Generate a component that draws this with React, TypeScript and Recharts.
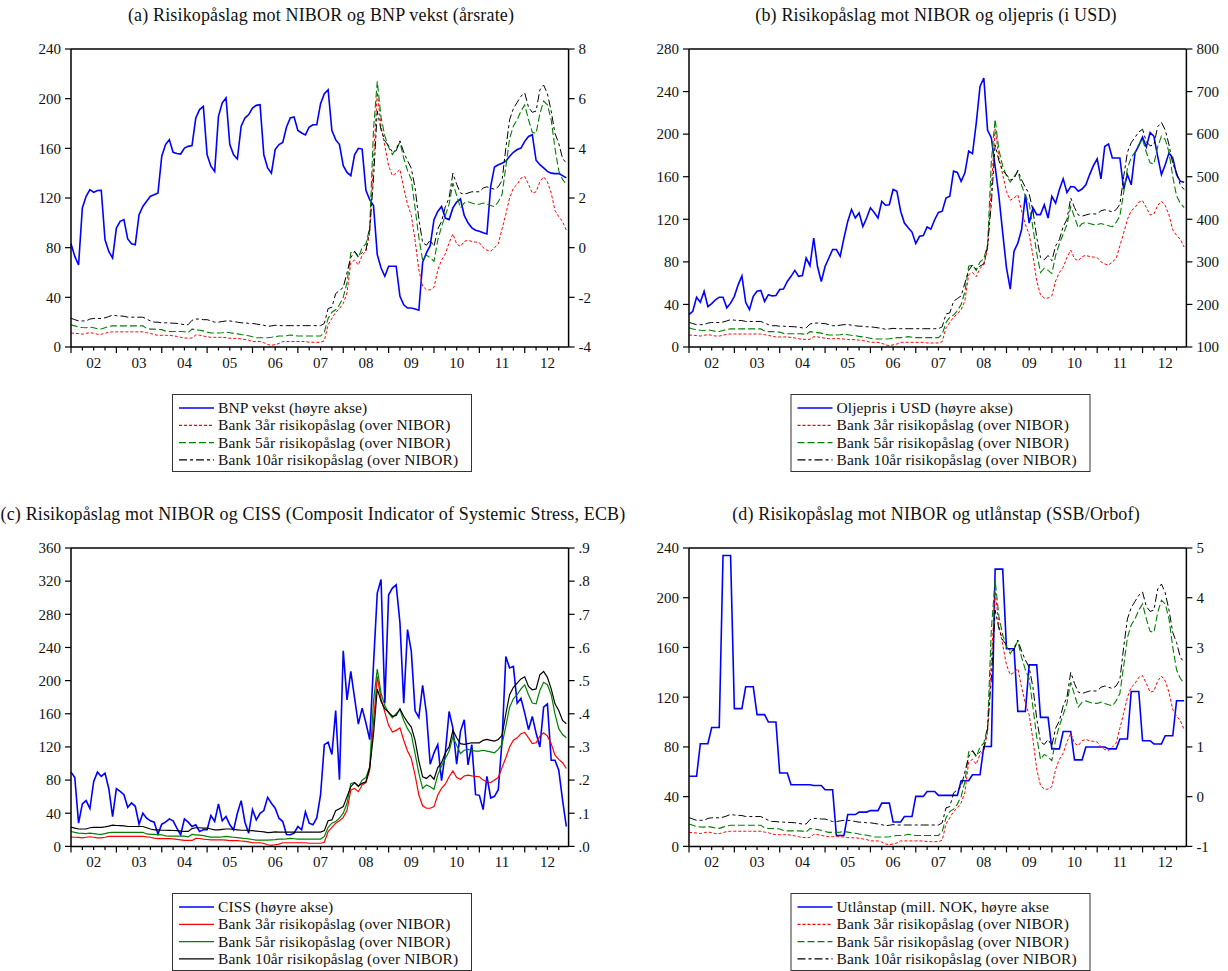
import React from 'react';
import { LineChart, Line, XAxis, YAxis, ReferenceLine } from 'recharts';

const FONT = '"Liberation Serif", "Times New Roman", serif';
const TXT = '#111';

// Monthly data 2002M01 - 2012M12 (132 obs)
const bank3 = [
  11.3, 11, 10.8, 10.3, 11, 11.6, 11, 10.3, 10.3, 11, 12, 12.2,
  12.2, 12.2, 12.2, 12.2, 12.2, 12.2, 12.2, 12.2, 11.5, 11, 10, 9.4,
  9.4, 9.4, 9.4, 9, 8.5, 7.8, 7.2, 7.2, 7.2, 9.7, 9.5, 8.8,
  8.3, 7.8, 7.8, 7.8, 7.8, 7.5, 7, 6.9, 6.9, 6.5, 6, 5.5,
  4.4, 4.4, 4.4, 3.5, 2, 1.3, 2, 2.8, 4.4, 4.4, 4.4, 4.4,
  4.4, 4.4, 4.4, 3.8, 3.8, 3.8, 3.8, 5, 18, 23, 28, 31,
  35, 43.5, 68, 70, 66, 74, 77, 92, 150, 205, 178, 162,
  146, 138, 140, 143, 128, 115, 106, 86, 62, 49, 46, 46,
  48, 62, 70, 75, 84, 91, 83, 81, 85, 86, 85, 84.5,
  84, 80, 78, 77, 80, 83, 95, 107, 120, 128, 131, 136,
  137.4, 131, 124, 125, 133, 137, 133, 124, 110, 105, 101, 94,
];
const bank5 = [
  18, 17, 16, 15.7, 15.5, 16, 15.5, 14.7, 14.5, 15.5, 16.5, 17,
  17, 17, 17, 17, 17, 17, 17, 17, 15, 14.4, 14.4, 14.2,
  14, 12.8, 12.5, 12.5, 12.5, 12.5, 12.3, 11.6, 14.4, 14, 13.5, 13,
  12, 11.3, 11.3, 11.3, 11.5, 12, 11.5, 11, 10.6, 10, 9.5, 9,
  8.3, 7.5, 7.5, 7.5, 7.5, 7.8, 8.2, 8.8, 8.8, 9, 9.7, 9.2,
  8.8, 8.8, 8.8, 8.8, 8.8, 8.8, 8.8, 12, 23, 28, 30, 34,
  40, 52, 76, 77, 72, 80, 83, 96, 175, 214, 185, 170,
  161, 155, 160, 165, 152, 142, 135, 112, 88, 70, 74, 72,
  69, 86, 97, 106, 115, 132, 122, 112, 116, 117, 116, 115,
  115, 116, 115, 114, 113, 117, 123, 145, 168, 178, 183, 190,
  195, 183, 173, 172, 188, 198, 195, 183, 160, 142, 135, 131,
];
const bank10 = [
  23.2, 22, 21, 21, 21, 22.5, 23, 23, 23, 23.5, 24.5, 25.7,
  25.2, 25, 24.8, 24, 24, 24, 24, 24, 22.5, 21, 20, 20,
  19.5, 19.5, 19.3, 19.2, 19, 18.5, 18, 18, 21.5, 22.5, 22.5, 22,
  22, 21, 20, 20, 20.5, 21, 21, 20.5, 20, 19.5, 19.5, 19,
  19, 18.5, 18, 17.5, 16.6, 17, 17.5, 17.2, 17.2, 17.2, 17.2, 17.2,
  17.2, 17.2, 17.2, 17.2, 17.2, 17.2, 17.2, 19, 31, 32, 43, 45.5,
  48, 60, 72, 77, 73, 76, 78, 95, 135, 190, 175, 166,
  162, 157, 158, 166, 157, 150, 144, 128, 103, 84, 82, 86,
  81, 95, 101, 113, 120, 140, 131, 124, 123, 124, 125, 125,
  125, 128, 129, 128, 127, 129, 134, 160, 183, 192, 197, 202,
  204.6, 193, 189, 190, 207, 211, 204, 190, 172, 164, 152, 148,
];
const bnpGrowth = [
  0.16, -0.35, -0.7, 1.6, 2.07, 2.34, 2.23, 2.3, 2.31, 0.32, -0.15, -0.42,
  0.79, 1.06, 1.13, 0.35, 0.16, 0.12, 1.33, 1.66, 1.87, 2.07, 2.13, 2.2,
  3.68, 4.15, 4.35, 3.84, 3.79, 3.77, 4.01, 4.08, 4.11, 5.22, 5.56, 5.69,
  3.74, 3.28, 3.07, 5.29, 5.83, 6.03, 4.15, 3.74, 3.57, 4.89, 5.22, 5.36,
  5.62, 5.73, 5.76, 3.74, 3.21, 3.0, 3.95, 4.15, 4.24, 4.86, 5.22, 5.26,
  4.72, 4.62, 4.54, 4.86, 4.95, 4.95, 5.8, 6.2, 6.36, 4.72, 4.35, 4.15,
  3.3, 3.03, 2.9, 3.74, 4.0, 3.97, 2.31, 1.93, 1.7, -0.28, -0.82, -1.15,
  -0.75, -0.75, -0.75, -1.96, -2.3, -2.43, -2.43, -2.47, -2.52, -0.59, -0.21, 0.08,
  1.13, 1.46, 1.66, 1.19, 1.13, 1.6, 1.84, 1.96, 1.3, 1.0, 0.8, 0.7,
  0.66, 0.6, 0.55, 2.47, 3.25, 3.34, 3.4, 3.48, 3.68, 3.84, 3.95, 4.01,
  4.28, 4.48, 4.55, 3.52, 3.34, 3.21, 3.07, 3.0, 2.98, 2.98, 2.9, 2.81,
];
const oilUsd = [
  176, 184, 217, 205, 231, 195, 202, 211, 217, 217, 192, 203,
  219, 246, 267, 205, 188, 219, 231, 233, 207, 223, 220, 221,
  235, 236, 254, 266, 280, 266, 268, 309, 291, 356, 289, 254,
  289, 309, 329, 329, 313, 356, 395, 423, 403, 415, 383, 403,
  427, 416, 403, 442, 433, 434, 470, 466, 419, 391, 380, 370,
  343, 360, 362, 382, 377, 399, 416, 419, 450, 454, 513, 510,
  489, 509, 560, 554, 626, 712, 732, 609, 591, 524, 454, 368,
  286, 236, 325, 344, 376, 458, 391, 427, 411, 411, 434, 403,
  454, 438, 470, 495, 463, 477, 476, 466, 471, 481, 505, 526,
  542, 495, 571, 577, 544, 544, 544, 471, 505, 481, 556, 573,
  593, 570, 604, 595, 548, 505, 528, 556, 544, 505, 489, 487,
];
const ciss = [
  0.224, 0.208, 0.07, 0.128, 0.138, 0.114, 0.196, 0.224, 0.211, 0.221, 0.174, 0.09,
  0.174, 0.166, 0.156, 0.118, 0.131, 0.121, 0.067, 0.1, 0.085, 0.077, 0.073, 0.037,
  0.067, 0.073, 0.083, 0.077, 0.055, 0.035, 0.083, 0.073, 0.06, 0.065, 0.045, 0.05,
  0.05, 0.093, 0.075, 0.128, 0.077, 0.09, 0.065, 0.05, 0.1, 0.138, 0.073, 0.04,
  0.111, 0.08, 0.1, 0.108, 0.148, 0.13, 0.115, 0.085, 0.075, 0.036, 0.035, 0.04,
  0.06, 0.05, 0.104, 0.07, 0.065, 0.086, 0.155, 0.307, 0.314, 0.277, 0.41, 0.201,
  0.59, 0.442, 0.528, 0.447, 0.369, 0.417, 0.372, 0.322, 0.548, 0.764, 0.805, 0.432,
  0.759, 0.779, 0.789, 0.674, 0.432, 0.654, 0.588, 0.409, 0.389, 0.486, 0.402, 0.248,
  0.282, 0.307, 0.198, 0.282, 0.407, 0.357, 0.248, 0.347, 0.382, 0.246, 0.307, 0.156,
  0.154, 0.111, 0.211, 0.146, 0.151, 0.171, 0.317, 0.573, 0.538, 0.543, 0.432, 0.447,
  0.402, 0.352, 0.392, 0.342, 0.30, 0.42, 0.43, 0.26, 0.26, 0.23, 0.14, 0.06,
];
// Quarterly loan losses (right-axis units), 2002Q1 - 2012Q4
const loanLossQ = [
  0.41, 1.065, 1.39, 4.85, 1.77, 2.21, 1.65, 1.5, 0.475, 0.24, 0.24, 0.225,
  0.14, -0.78, -0.36, -0.31, -0.28, -0.13, -0.51, -0.4, 0.005, 0.105, 0.025, 0.025,
  0.32, 0.44, 1.01, 4.575, 2.975, 1.715, 2.65, 1.595, 0.96, 1.31, 0.74, 1.0,
  1.0, 0.96, 1.16, 2.115, 1.125, 1.06, 1.225, 1.93,
];
const yearLabels = ['02', '03', '04', '05', '06', '07', '08', '09', '10', '11', '12'];

const data = bank3.map((_, i) => ({
  m: i,
  b3: bank3[i],
  b5: bank5[i],
  b10: bank10[i],
  bnp: bnpGrowth[i],
  oil: oilUsd[i],
  ciss: ciss[i],
  loss: loanLossQ[Math.floor(i / 3)],
}));

const xTicks = Array.from({ length: 44 }, (_, k) => k * 3);

const XTick = (props: any) => {
  const { x, y, payload } = props;
  const v = payload.value;
  const major = v % 12 === 0;
  const label = v % 12 === 6 ? yearLabels[Math.floor(v / 12)] : null;
  return (
    <g>
      <line x1={x} y1={y} x2={x} y2={y + (major ? 6 : 3.5)} stroke="#000" strokeWidth={1.2} />
      {label && (
        <text x={x} y={y + 21} textAnchor="middle" fontSize={15} fontFamily={FONT} fill={TXT}>
          {label}
        </text>
      )}
    </g>
  );
};

type PanelProps = {
  px: number;
  py: number;
  w: number;
  h: number;
  leftDomain: [number, number];
  leftTicks: number[];
  rightDomain: [number, number];
  rightTicks: number[];
  rightFmt: (v: number) => string;
  rightKey: string;
  solid: boolean;
};

const Panel = (p: PanelProps) => {
  const width = p.w + 130;
  const height = p.h + 100;
  const axisStyle = { stroke: '#000', strokeWidth: 1.5 };
  const tickStyle = { fontSize: 15, fontFamily: FONT, fill: TXT };
  return (
    <div style={{ position: 'absolute', left: p.px - 70, top: p.py - 50 }}>
      <LineChart width={width} height={height} data={data} margin={{ top: 50, right: 10, bottom: 10, left: 10 }}>
        <XAxis
          dataKey="m"
          type="number"
          domain={[0, 131.6]}
          ticks={xTicks}
          interval={0}
          tickLine={false}
          tickSize={0}
          tickMargin={0}
          axisLine={axisStyle}
          tick={<XTick />}
          height={40}
        />
        <YAxis
          yAxisId="L"
          domain={p.leftDomain}
          ticks={p.leftTicks}
          interval={0}
          width={60}
          tickSize={6}
          tickMargin={4}
          axisLine={axisStyle}
          tickLine={{ stroke: '#000', strokeWidth: 1.2 }}
          tick={tickStyle}
        />
        <YAxis
          yAxisId="R"
          orientation="right"
          domain={p.rightDomain}
          ticks={p.rightTicks}
          interval={0}
          width={50}
          tickSize={6}
          tickMargin={4}
          axisLine={axisStyle}
          tickLine={{ stroke: '#000', strokeWidth: 1.2 }}
          tick={tickStyle}
          tickFormatter={p.rightFmt}
        />
        <ReferenceLine yAxisId="L" y={p.leftDomain[1]} stroke="#000" strokeWidth={1.5} />
        <Line yAxisId="R" dataKey={p.rightKey} stroke="#0000ff" strokeWidth={1.6} dot={false} isAnimationActive={false} />
        <Line
          yAxisId="L"
          dataKey="b3"
          stroke="#ff0000"
          strokeWidth={p.solid ? 1.2 : 1}
          strokeDasharray={p.solid ? undefined : '3 2'}
          dot={false}
          isAnimationActive={false}
        />
        <Line
          yAxisId="L"
          dataKey="b5"
          stroke="#008000"
          strokeWidth={p.solid ? 1.2 : 1.1}
          strokeDasharray={p.solid ? undefined : '7 3'}
          dot={false}
          isAnimationActive={false}
        />
        <Line
          yAxisId="L"
          dataKey="b10"
          stroke="#000000"
          strokeWidth={p.solid ? 1.2 : 1}
          strokeDasharray={p.solid ? undefined : '8 3 3 3'}
          dot={false}
          isAnimationActive={false}
        />
      </LineChart>
    </div>
  );
};

type LegendItem = { label: string; color: string; dash?: string; width: number };

const LegendBox = ({ x, y, items }: { x: number; y: number; items: LegendItem[] }) => (
  <g>
    <rect x={x + 0.5} y={y + 0.5} width={299} height={77} fill="#fff" stroke="#333" strokeWidth={1} />
    {items.map((it, k) => {
      const ry = y + 14 + k * 17.3;
      return (
        <g key={k}>
          <line x1={x + 7} x2={x + 42} y1={ry} y2={ry} stroke={it.color} strokeWidth={it.width} strokeDasharray={it.dash} />
          <text x={x + 46} y={ry + 5} fontSize={15.5} fontFamily={FONT} fill={TXT} letterSpacing={0.1}>
            {it.label}
          </text>
        </g>
      );
    })}
  </g>
);

const bankItems = (solid: boolean): LegendItem[] => [
  { label: 'Bank 3år risikopåslag (over NIBOR)', color: '#ff0000', dash: solid ? undefined : '3 2', width: 1.2 },
  { label: 'Bank 5år risikopåslag (over NIBOR)', color: '#008000', dash: solid ? undefined : '7 3', width: 1.2 },
  { label: 'Bank 10år risikopåslag (over NIBOR)', color: '#000000', dash: solid ? undefined : '8 3 3 3', width: 1.2 },
];

const titles = [
  { x: 321, y: 21, t: '(a) Risikopåslag mot NIBOR og BNP vekst (årsrate)' },
  { x: 936, y: 21, t: '(b) Risikopåslag mot NIBOR og oljepris (i USD)' },
  { x: 313, y: 520, t: '(c) Risikopåslag mot NIBOR og CISS (Composit Indicator of Systemic Stress, ECB)' },
  { x: 936, y: 520, t: '(d) Risikopåslag mot NIBOR og utlånstap (SSB/Orbof)' },
];

export default function App() {
  return (
    <div style={{ position: 'absolute', left: 0, top: 0, width: 1228, height: 971, background: '#fff' }}>
      <Panel
        px={70.7}
        py={49.3}
        w={497.6}
        h={298}
        leftDomain={[0, 240]}
        leftTicks={[0, 40, 80, 120, 160, 200, 240]}
        rightDomain={[-4, 8]}
        rightTicks={[-4, -2, 0, 2, 4, 6, 8]}
        rightFmt={(v) => String(v)}
        rightKey="bnp"
        solid={false}
      />
      <Panel
        px={689.3}
        py={49.3}
        w={497.4}
        h={298}
        leftDomain={[0, 280]}
        leftTicks={[0, 40, 80, 120, 160, 200, 240, 280]}
        rightDomain={[100, 800]}
        rightTicks={[100, 200, 300, 400, 500, 600, 700, 800]}
        rightFmt={(v) => String(v)}
        rightKey="oil"
        solid={false}
      />
      <Panel
        px={70.7}
        py={548.3}
        w={497.6}
        h={298.4}
        leftDomain={[0, 360]}
        leftTicks={[0, 40, 80, 120, 160, 200, 240, 280, 320, 360]}
        rightDomain={[0, 0.9]}
        rightTicks={[0, 0.1, 0.2, 0.3, 0.4, 0.5, 0.6, 0.7, 0.8, 0.9]}
        rightFmt={(v) => '.' + Math.round(v * 10)}
        rightKey="ciss"
        solid={true}
      />
      <Panel
        px={689.3}
        py={548.3}
        w={497.4}
        h={298.4}
        leftDomain={[0, 240]}
        leftTicks={[0, 40, 80, 120, 160, 200, 240]}
        rightDomain={[-1, 5]}
        rightTicks={[-1, 0, 1, 2, 3, 4, 5]}
        rightFmt={(v) => String(v)}
        rightKey="loss"
        solid={false}
      />
      <svg width={1228} height={971} style={{ position: 'absolute', left: 0, top: 0, pointerEvents: 'none' }}>
        {titles.map((t, k) => (
          <text key={k} x={t.x} y={t.y} textAnchor="middle" fontSize={18} fontFamily={FONT} fill={TXT} letterSpacing={0.15}>
            {t.t}
          </text>
        ))}
        <LegendBox x={172} y={394} items={[{ label: 'BNP vekst (høyre akse)', color: '#0000ff', width: 1.6 }, ...bankItems(false)]} />
        <LegendBox x={790.5} y={394} items={[{ label: 'Oljepris i USD (høyre akse)', color: '#0000ff', width: 1.6 }, ...bankItems(false)]} />
        <LegendBox x={172} y={893} items={[{ label: 'CISS (høyre akse)', color: '#0000ff', width: 1.6 }, ...bankItems(true)]} />
        <LegendBox x={790.5} y={893} items={[{ label: 'Utlånstap (mill. NOK, høyre akse', color: '#0000ff', width: 1.6 }, ...bankItems(false)]} />
      </svg>
    </div>
  );
}
